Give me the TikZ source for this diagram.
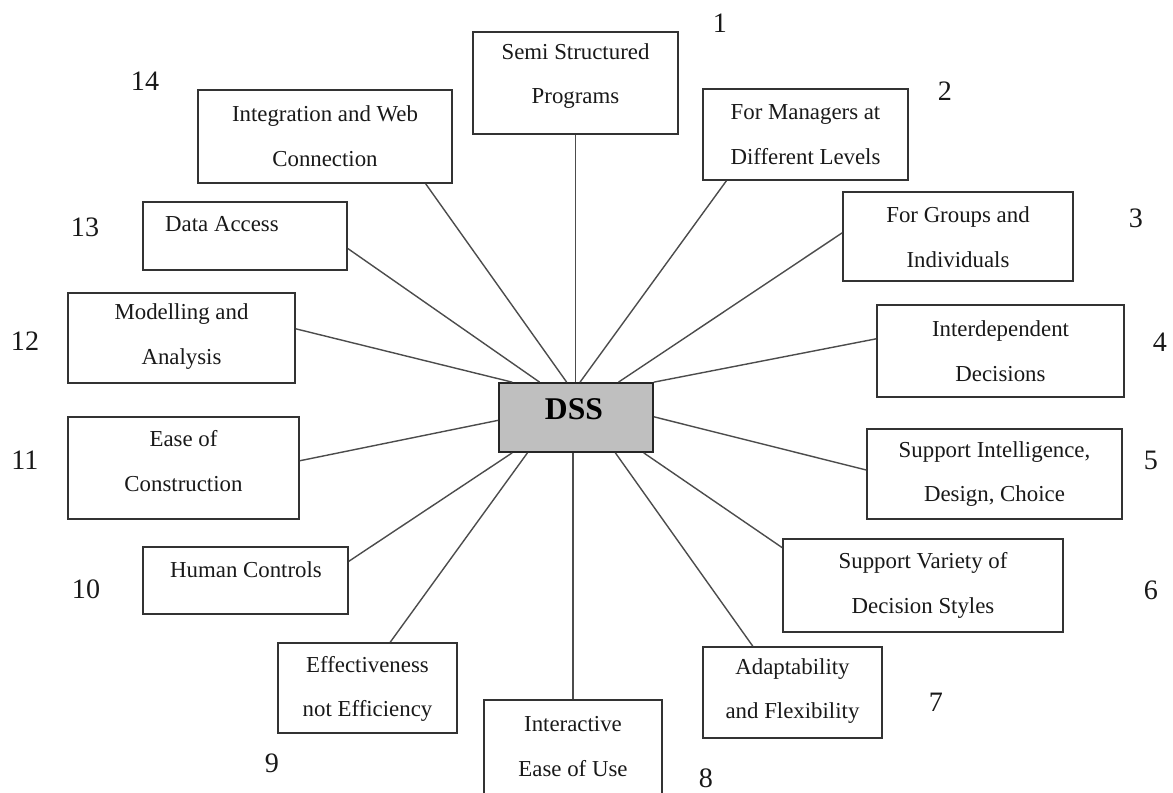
\documentclass[tikz,border=0pt]{standalone}
\usepackage{fontspec}
\setmainfont{Liberation Serif}
\usetikzlibrary{calc}

\tikzset{
  box/.style={draw=black!80, line width=1pt, fill=white, rectangle, inner sep=0pt},
  hub/.style={draw=black!85, line width=1pt, fill=black!25, rectangle, inner sep=0pt},
  boxtext/.style={align=center, inner sep=0pt, text=black!90,
    font=\fontsize{13}{25.5}\selectfont},
  hubtext/.style={inner sep=0pt, font=\fontsize{18}{20}\selectfont\bfseries},
  num/.style={inner sep=0pt, text=black!90, font=\fontsize{16}{18}\selectfont},
  link/.style={draw=black!70, line width=0.8pt}
}

\begin{document}
\begin{tikzpicture}[x=0.02cm, y=-0.02cm]
\useasboundingbox (0,0) rectangle (1173,792);

% central hub
\node[hub, minimum width=3.08cm, minimum height=1.38cm] (dss) at (576,417.5) {};
\node[hubtext] (tdss) at (574,409) {DSS};

% surrounding feature boxes
\node[box, minimum width=4.10cm, minimum height=2.04cm] (b1)  at (575.5,83)    {};
\node[box, minimum width=4.10cm, minimum height=1.82cm] (b2)  at (805.5,134.5) {};
\node[box, minimum width=4.60cm, minimum height=1.78cm] (b3)  at (958,236.5)   {};
\node[box, minimum width=4.94cm, minimum height=1.84cm] (b4)  at (1000.5,351)  {};
\node[box, minimum width=5.10cm, minimum height=1.80cm] (b5)  at (994.5,474)   {};
\node[box, minimum width=5.60cm, minimum height=1.86cm] (b6)  at (923,585.5)   {};
\node[box, minimum width=3.58cm, minimum height=1.82cm] (b7)  at (792.5,692.5) {};
\node[box, minimum width=3.56cm, minimum height=1.92cm] (b8)  at (573,748)     {};
\node[box, minimum width=3.58cm, minimum height=1.80cm] (b9)  at (367.5,688)   {};
\node[box, minimum width=4.10cm, minimum height=1.34cm] (b10) at (245.5,580.5) {};
\node[box, minimum width=4.62cm, minimum height=2.04cm] (b11) at (183.5,468)   {};
\node[box, minimum width=4.54cm, minimum height=1.80cm] (b12) at (181.5,338)   {};
\node[box, minimum width=4.08cm, minimum height=1.36cm] (b13) at (245,236)     {};
\node[box, minimum width=5.08cm, minimum height=1.86cm] (b14) at (325,136.5)   {};

% box texts
\node[boxtext] (t1)  at (575.5,76)   {Semi Structured\\Programs};
\node[boxtext] (t2)  at (805.5,134.5){For Managers at\\Different Levels};
\node[boxtext] (t3)  at (958,237.5)  {For Groups and\\Individuals};
\node[boxtext] (t4)  at (1000.5,351.5){Interdependent\\Decisions};
\node[boxtext] (t5)  at (994.5,474)  {Support Intelligence,\\Design, Choice};
\node[boxtext] (t6)  at (923,585.5)  {Support Variety of\\Decision Styles};
\node[boxtext] (t7)  at (792.5,691)  {Adaptability\\and Flexibility};
\node[boxtext] (t8)  at (573,746.5)  {Interactive\\Ease of Use};
\node[boxtext] (t9)  at (367.5,689)  {Effectiveness\\not Efficiency};
\node[boxtext] (t10) at (246,570)    {Human Controls};
\node[boxtext] (t11) at (183.5,461)  {Ease of\\Construction};
\node[boxtext] (t12) at (181.5,336.5){Modelling and\\Analysis};
\node[boxtext] (t13) at (222,224)    {Data Access};
\node[boxtext] (t14) at (325,136)    {Integration and Web\\Connection};

% numbering
\node[num] (n1)  at (720,23)   {1};
\node[num] (n2)  at (945,91)   {2};
\node[num] (n3)  at (1136,218) {3};
\node[num] (n4)  at (1160,342) {4};
\node[num] (n5)  at (1151,460) {5};
\node[num] (n6)  at (1151,590) {6};
\node[num] (n7)  at (936,702)  {7};
\node[num] (n8)  at (706,778)  {8};
\node[num] (n9)  at (272,763)  {9};
\node[num] (n10) at (86,589)   {10};
\node[num] (n11) at (25,460)   {11};
\node[num] (n12) at (25,341)   {12};
\node[num] (n13) at (85,227)   {13};
\node[num] (n14) at (145,81)   {14};

% spokes from the hub
\draw[link] (b1.south) -- (b1.south |- dss.north);
\draw[link] ($(b2.south west)!0.117!(b2.south east)$) -- ($(dss.north west)!0.526!(dss.north east)$);
\draw[link] ($(b3.north west)!0.46!(b3.south west)$) -- ($(dss.north west)!0.773!(dss.north east)$);
\draw[link] ($(b4.north west)!0.37!(b4.south west)$) -- (dss.north east);
\draw[link] ($(b5.north west)!0.456!(b5.south west)$) -- ($(dss.north east)!0.49!(dss.south east)$);
\draw[link] ($(b6.north west)!0.1!(b6.south west)$) -- ($(dss.south west)!0.935!(dss.south east)$);
\draw[link] ($(b7.north west)!0.28!(b7.north east)$) -- ($(dss.south west)!0.753!(dss.south east)$);
\draw[link] (b8.north) -- (b8.north |- dss.south);
\draw[link] ($(b9.north west)!0.626!(b9.north east)$) -- ($(dss.south west)!0.188!(dss.south east)$);
\draw[link] ($(b10.north east)!0.22!(b10.south east)$) -- ($(dss.south west)!0.09!(dss.south east)$);
\draw[link] ($(b11.north east)!0.43!(b11.south east)$) -- ($(dss.north west)!0.54!(dss.south west)$);
\draw[link] ($(b12.north east)!0.4!(b12.south east)$) -- ($(dss.north west)!0.09!(dss.north east)$);
\draw[link] ($(b13.north east)!0.68!(b13.south east)$) -- ($(dss.north west)!0.266!(dss.north east)$);
\draw[link] ($(b14.south west)!0.894!(b14.south east)$) -- ($(dss.north west)!0.44!(dss.north east)$);
\end{tikzpicture}
\end{document}
